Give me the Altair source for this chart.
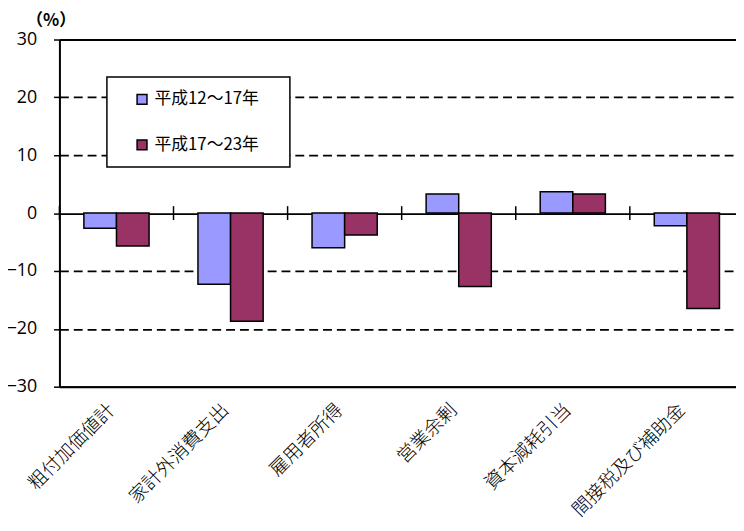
import altair as alt
import pandas as pd

categories = ["粗付加価値計", "家計外消費支出", "雇用者所得", "営業余剰", "資本減耗引当", "間接税及び補助金"]
series_names = ["平成12～17年", "平成17～23年"]
values_12_17 = [-2.6, -12.3, -6.0, 3.3, 3.7, -2.2]
values_17_23 = [-5.7, -18.7, -3.8, -12.7, 3.3, -16.5]
y_ticks = [-30, -20, -10, 0, 10, 20, 30]
colors = ["#9999FF", "#993366"]

rows = []
for c, a, b in zip(categories, values_12_17, values_17_23):
    rows.append({"cat": c, "series": series_names[0], "value": a})
    rows.append({"cat": c, "series": series_names[1], "value": b})
df = pd.DataFrame(rows)
cat_df = pd.DataFrame({"cat": categories})

x_scale = alt.Scale(domain=categories, range=[0, 692], paddingInner=0, paddingOuter=0)
y_scale = alt.Scale(domain=[-30, 30], nice=False)

y_axis = alt.Axis(
    values=y_ticks, format="d", title="（%）", titleAngle=0, titleAlign="left",
    titleBaseline="bottom", titleX=-34, titleY=-10, titleFont="Noto Sans CJK JP",
    titleFontSize=17, titleFontWeight="bold", titleColor="black",
    labelFont="Open Sans", labelFontSize=18, labelColor="black", labelPadding=17,
    tickColor="black", tickSize=6, tickWidth=1.5,
    domainColor="black", domainWidth=2,
    grid=True, gridColor="black", gridWidth=1.8,
    gridDash=alt.condition(
        "datum.value == 10 || datum.value == 20 || datum.value == -10 || datum.value == -20",
        alt.value([9, 5]), alt.value([])),
)

x_axis = alt.Axis(
    title=None, ticks=False, labelAngle=-45, labelAlign="right", labelBaseline="middle",
    labelPadding=20, labelOffset=-5, labelFont="Noto Sans CJK JP", labelFontSize=19,
    labelFontWeight=300, labelColor="black", labelLimit=400,
    domainColor="black", domainWidth=2, grid=False,
)

bars = alt.Chart(df).mark_bar(stroke="black", strokeWidth=1.5).encode(
    x=alt.X("cat:N", sort=categories, scale=x_scale, axis=x_axis),
    xOffset=alt.XOffset("series:N", sort=series_names,
                        scale=alt.Scale(paddingInner=0, paddingOuter=0.75)),
    y=alt.Y("value:Q", scale=y_scale, axis=y_axis),
    color=alt.Color("series:N", sort=series_names,
                    scale=alt.Scale(domain=series_names, range=colors),
                    legend=alt.Legend(
                        title=None, orient="none", legendX=48, legendY=38,
                        direction="vertical", fillColor="white", strokeColor="black",
                        padding=14, rowPadding=28,
                        symbolType="square", symbolSize=100, symbolStrokeColor="black",
                        symbolStrokeWidth=1.5, symbolOffset=13, labelOffset=4,
                        labelFont="Noto Sans CJK JP", labelFontSize=17, labelColor="black",
                        labelExpr="datum.label + '\u3000\u200b'")),
)

ticks = alt.Chart(cat_df).mark_rule(color="black", strokeWidth=1.5).encode(
    x=alt.X("cat:N", sort=categories, scale=x_scale, bandPosition=0),
    y=alt.datum(1.2),
    y2=alt.datum(-1.2),
)

chart = alt.layer(bars, ticks).properties(
    width=684, height=351,
    autosize="none",
    padding={"left": 52, "top": 29, "right": 0, "bottom": 140},
    background="white",
).configure_view(stroke=None).configure_legend(strokeWidth=1.5)

chart.save("out.html", embed_options={"renderer": "svg", "actions": False})
